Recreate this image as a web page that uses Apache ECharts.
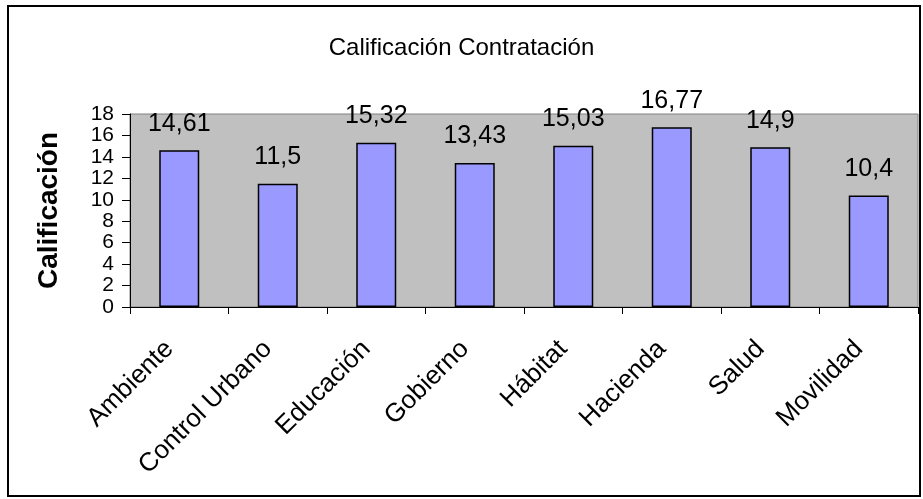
<!DOCTYPE html>
<html>
<head>
<meta charset="utf-8">
<script src="https://cdn.jsdelivr.net/npm/echarts@6/dist/echarts.min.js"></script>
<style>
  html, body { margin: 0; padding: 0; background: #fff; }
  #chart { width: 923px; height: 499px; }
</style>
</head>
<body>
<div id="chart"></div>
<script>
// datos
const categorias = ['Ambiente', 'Control Urbano', 'Educación', 'Gobierno', 'Hábitat', 'Hacienda', 'Salud', 'Movilidad']
const calificacion = [14.61, 11.5, 15.32, 13.43, 15.03, 16.77, 14.9, 10.4]
const titulo = 'Calificación Contratación'
const nombreEjeY = 'Calificación'

const chart = echarts.init(document.getElementById('chart'))
chart.setOption({
  backgroundColor: '#fff',
  animation: false,
  title: {
    text: titulo,
    left: 'center',
    top: 31,
    textStyle: {
      color: '#000',
      fontFamily: 'Liberation Sans',
      fontWeight: 'normal',
      fontSize: 24
    }
  },
  // marco exterior
  graphic: [{
    type: 'rect',
    shape: { x: 8, y: 6, width: 912, height: 490 },
    style: { fill: 'none', stroke: '#000', lineWidth: 2 },
    silent: true
  }],
  grid: {
    left: 130,
    right: 5,
    top: 114,
    bottom: 192,
    show: true,
    backgroundColor: '#C0C0C0',
    borderColor: '#808080',
    borderWidth: 1
  },
  xAxis: {
    type: 'category',
    data: categorias,
    axisLine: { lineStyle: { color: '#000', width: 1 } },
    axisTick: { show: true, length: 7, lineStyle: { color: '#000' } },
    axisLabel: {
      interval: 0,
      rotate: 45,
      margin: 28,
      padding: [0, 14, 0, 0],
      color: '#000',
      fontFamily: 'Liberation Sans',
      fontSize: 26
    },
    splitLine: { show: false }
  },
  yAxis: {
    type: 'value',
    min: 0,
    max: 18,
    interval: 2,
    name: nombreEjeY,
    nameLocation: 'middle',
    nameGap: 67,
    nameTextStyle: {
      color: '#000',
      fontFamily: 'Liberation Sans',
      fontWeight: 'bold',
      fontSize: 28
    },
    axisLine: { show: true, lineStyle: { color: '#000', width: 1 } },
    axisTick: { show: true, length: 8, lineStyle: { color: '#000' } },
    axisLabel: {
      margin: 16,
      showMinLabel: true,
      showMaxLabel: true,
      hideOverlap: false,
      color: '#000',
      fontFamily: 'Liberation Sans',
      fontSize: 21,
      lineHeight: 18
    },
    splitLine: { show: false }
  },
  series: [{
    type: 'bar',
    data: calificacion,
    barWidth: 40,
    itemStyle: {
      color: '#9999FF',
      borderColor: '#000',
      borderWidth: 1.5
    },
    label: {
      show: true,
      position: 'top',
      distance: 14,
      color: '#000',
      fontFamily: 'Liberation Sans',
      fontSize: 25,
      formatter: p => String(p.value).replace('.', ',')
    }
  }]
})
</script>
</body>
</html>
